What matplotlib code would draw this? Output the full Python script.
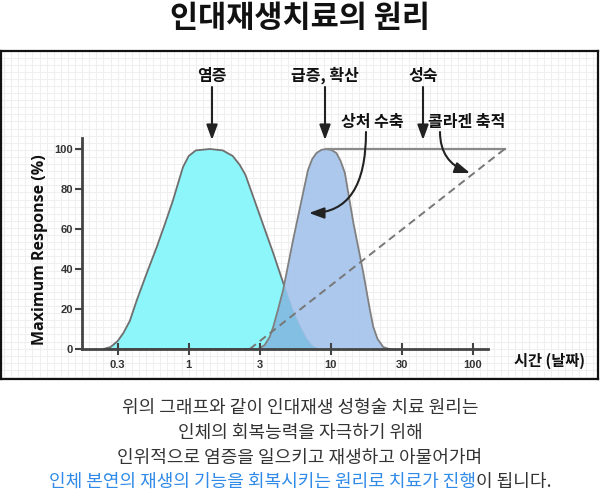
import matplotlib
matplotlib.use("Agg")
import matplotlib.pyplot as plt
import numpy as np

plt.rcParams['font.family'] = ['Noto Sans CJK KR', 'DejaVu Sans']

# time ticks (days) - the chart draws them equally spaced
time_labels = ["0.3", "1", "3", "10", "30", "100"]
response_ticks = [0, 20, 40, 60, 80, 100]

# inflammation (x = tick index on time axis, y = % response)
inflam_x = [-0.20, -0.10, 0.00, 0.08, 0.17, 0.27, 0.41, 0.55, 0.67, 0.78, 0.86, 0.92,
            1.00, 1.10, 1.30, 1.48, 1.62, 1.72, 1.80, 1.96, 2.19, 2.36, 2.48, 2.57,
            2.66, 2.74, 2.82]
inflam_y = [0, 1, 4, 8, 14, 24.5, 38, 51, 63, 74.5, 84, 91,
            96.5, 99.3, 100, 99.3, 96.5, 92, 87, 71, 48, 30, 18, 11,
            5, 1.5, 0]

# proliferation
prolif_x = [1.98, 2.07, 2.14, 2.19, 2.26, 2.33, 2.47, 2.59, 2.68, 2.74, 2.80, 2.87,
            2.94, 3.01, 3.08, 3.14, 3.20, 3.32, 3.46, 3.55, 3.60, 3.66, 3.74, 3.82]
prolif_y = [0, 2, 6, 11, 20, 29.5, 54.5, 74.5, 89.5, 95, 98, 99.6,
            100, 99.5, 98, 94, 88, 63, 38, 20, 11, 5, 1, 0]

# maturation plateau and collagen build-up
maturation_x = [2.94, 5.45]
maturation_y = [100, 100]
collagen_x = [1.86, 5.45]
collagen_y = [0, 100]

caption_lines = ["위의 그래프와 같이 인대재생 성형술 치료 원리는",
                 "인체의 회복능력을 자극하기 위해",
                 "인위적으로 염증을 일으키고 재생하고 아물어가며"]
caption_blue = "인체 본연의 재생의 기능을 회복시키는 원리로 치료가 진행"
caption_end = "이 됩니다."

W, H = 600, 492
fig = plt.figure(figsize=(6, 4.92), dpi=100)


def dx(p):
    # pixel column -> data x
    return (p - 117.7) / 71.0


def dy(p):
    # pixel row -> data y
    return (349.0 - p) / 2.0


box = [1 / W, 1 - 379 / H, 597 / W, 328 / H]

# background box with light grid
bg = fig.add_axes(box)
bg.set_xlim(0, 597)
bg.set_ylim(0, 328)
bg.set_xticks(np.arange(3, 597, 7.1))
bg.set_yticks(np.arange(2, 328, 7.1))
bg.grid(True, color='#efefef', lw=0.8)
bg.tick_params(length=0, labelbottom=False, labelleft=False)
for s in bg.spines.values():
    s.set_color('#111111')
    s.set_linewidth(1.6)

ax = fig.add_axes(box)
ax.patch.set_visible(False)
ax.set_xlim(dx(1), dx(598))
ax.set_ylim(dy(379), dy(51))

cyan = '#8cf6fa'
blue = '#a6c4ec'
overlap = '#80bfe2'

ax.fill(inflam_x, inflam_y, fc=cyan, ec='#6f6f6f', lw=1.3, zorder=1)
pb = ax.fill(prolif_x, prolif_y, fc=blue, ec='none', alpha=0.93, zorder=1.1)
ov = ax.fill(inflam_x, inflam_y, fc=overlap, ec='none', alpha=0.9, zorder=1.2)
ov[0].set_clip_path(pb[0])
ax.plot(prolif_x, prolif_y, color='#808080', lw=1.3, zorder=1.3)
ax.plot(maturation_x, maturation_y, color='#8a8a8a', lw=1.6, zorder=1.3, clip_on=False)
ax.plot(collagen_x, collagen_y, color='#777777', lw=1.4, ls=(0, (4, 2.5)), zorder=1.4)

for side in ['top', 'right']:
    ax.spines[side].set_visible(False)
ax.spines['left'].set_position(('data', -0.5))
ax.spines['bottom'].set_position(('data', 0))
ax.spines['left'].set_bounds(0, 105.5)
ax.spines['bottom'].set_bounds(-0.5, 5.22)
for side in ['left', 'bottom']:
    ax.spines[side].set_color('#444444')
    ax.spines[side].set_linewidth(2.0)

ax.set_yticks(response_ticks)
ax.set_yticklabels([str(v) for v in response_ticks], fontsize=8, fontweight='bold',
                   family='Liberation Sans', color='#333333')
ax.set_xticks(range(len(time_labels)))
ax.set_xticklabels(time_labels, fontsize=8, fontweight='bold',
                   family='Liberation Sans', color='#333333')
ax.tick_params(axis='y', direction='out', length=5, width=1.5, color='#444444', pad=1.5)
ax.tick_params(axis='x', direction='inout', length=8, width=1.5, color='#444444', pad=4)

# axis titles
fig.text(40 / W, 1 - 250 / H, "Maximum Response (%)", rotation=90, ha='center', va='center',
         fontsize=11.5, fontweight='bold', family='Open Sans', color='#111111')
fig.text(550 / W, 1 - 361 / H, "시간 (날짜)", ha='center', va='center',
         fontsize=11, fontweight='bold', color='#111111')

# phase labels and arrows
arrow_kw = dict(arrowstyle='-|>,head_length=0.6,head_width=0.22', color='#222222',
                lw=1.5, mutation_scale=15, shrinkA=0, shrinkB=0)
for label, xp in [("염증", 212), ("급증, 확산", 325), ("성숙", 423)]:
    ax.text(dx(xp), dy(75.5), label, ha='center', va='center', fontsize=11.5,
            fontweight='bold', color='#111111')
    ax.annotate('', xy=(dx(xp), dy(140)), xytext=(dx(xp), dy(87)), arrowprops=arrow_kw)

ax.text(dx(372), dy(122), "상처 수축", ha='center', va='center', fontsize=11.5,
        fontweight='bold', color='#111111')
ax.annotate('', xy=(dx(309), dy(213)), xytext=(dx(366), dy(132)),
            arrowprops=dict(arrow_kw, connectionstyle='angle3,angleA=90,angleB=0'))
ax.text(dx(467), dy(122), "콜라겐 축적", ha='center', va='center', fontsize=11.5,
        fontweight='bold', color='#111111')
ax.annotate('', xy=(dx(470), dy(173)), xytext=(dx(440), dy(132)),
            arrowprops=dict(arrow_kw, connectionstyle='angle3,angleA=90,angleB=-20'))

# title
fig.text(0.5, 1 - 18 / H, "인대재생치료의 원리", ha='center', va='center',
         fontsize=22, fontweight='bold', color='#111111')

# caption
cap_size = 13
for i, line in enumerate(caption_lines):
    fig.text(0.5, 1 - (408 + 24.8 * i) / H, line, ha='center', va='center',
             fontsize=cap_size, color='#333333')

renderer = fig.canvas.get_renderer()
yl = 1 - 481.5 / H
t1 = fig.text(0, yl, caption_blue, ha='left', va='center', fontsize=cap_size, color='#2f8ae8')
t2 = fig.text(0, yl, caption_end, ha='left', va='center', fontsize=cap_size, color='#333333')
w1 = t1.get_window_extent(renderer).width
w2 = t2.get_window_extent(renderer).width
x0 = (W - w1 - w2) / 2
t1.set_x(x0 / W)
t2.set_x((x0 + w1) / W)

fig.savefig("out.png", dpi=100)
